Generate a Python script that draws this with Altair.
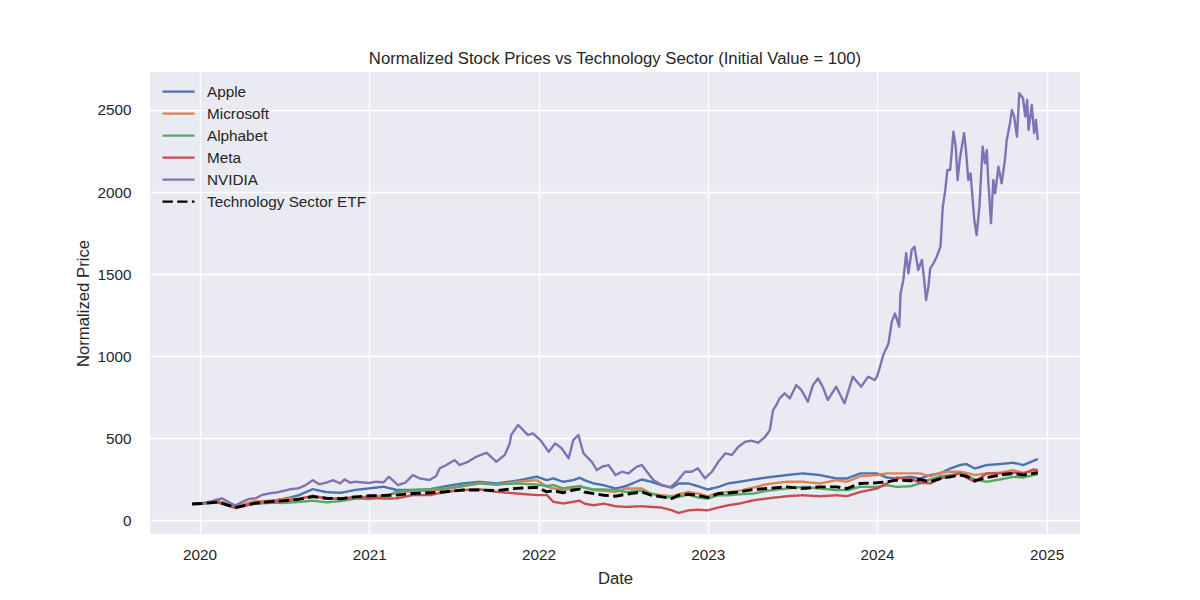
import altair as alt
import pandas as pd

series_order = ["Apple", "Microsoft", "Alphabet", "Meta", "NVIDIA", "Technology Sector ETF"]
series_colors = ["#4C72B0", "#DD8452", "#55A868", "#C44E52", "#8172B3", "#000000"]

# Common sampling dates for the five slower-moving series
common_dates = [
    "2019-12-16", "2020-01-13", "2020-02-10", "2020-03-18", "2020-04-28", "2020-06-05",
    "2020-07-01", "2020-08-01", "2020-09-01", "2020-10-01", "2020-11-01", "2020-12-01",
    "2021-01-01", "2021-02-01", "2021-03-01", "2021-04-05", "2021-05-11", "2021-06-16",
    "2021-07-22", "2021-08-27", "2021-10-02", "2021-11-14", "2021-12-28", "2022-01-19",
    "2022-02-02", "2022-02-23", "2022-03-17", "2022-03-31", "2022-04-10", "2022-04-30",
    "2022-05-22", "2022-06-16", "2022-07-08", "2022-08-12", "2022-09-01", "2022-09-24",
    "2022-10-16", "2022-10-30", "2022-11-20", "2022-12-11", "2023-01-01", "2023-01-24",
    "2023-02-14", "2023-03-10", "2023-04-09", "2023-05-08", "2023-06-20", "2023-07-25",
    "2023-08-31", "2023-10-06", "2023-10-28", "2023-11-26", "2024-01-01", "2024-01-22",
    "2024-02-13", "2024-03-13", "2024-04-03", "2024-04-25", "2024-05-17", "2024-06-07",
    "2024-06-28", "2024-07-12", "2024-07-30", "2024-08-25", "2024-09-22", "2024-10-21",
    "2024-11-12", "2024-12-04", "2024-12-13",
]

apple = [
    100, 105, 112, 80, 105, 118,
    131, 152, 190, 172, 168, 185,
    195, 205, 185, 185, 189, 209,
    225, 235, 225, 241, 266, 245,
    256, 235, 245, 260, 245, 225,
    214, 194, 208, 249, 235, 214,
    200, 225, 225, 208, 188, 204,
    225, 235, 249, 261, 276, 286,
    276, 255, 255, 286, 286, 261,
    255, 265, 255, 276, 286, 316,
    337, 343, 316, 337, 343, 351,
    337, 363, 374,
]

microsoft = [
    100, 106, 118, 88, 116, 120,
    131, 132, 146, 135, 130, 140,
    145, 150, 168, 178, 181, 189,
    209, 229, 218, 235, 245, 205,
    195, 185, 195, 210, 200, 184,
    180, 173, 194, 194, 163, 153,
    147, 159, 173, 163, 147, 167,
    173, 180, 200, 220, 235, 235,
    225, 245, 235, 269, 276, 286,
    286, 286, 286, 269, 290, 296,
    296, 290, 276, 286, 290, 306,
    290, 296, 306,
]

alphabet = [
    100, 104, 108, 80, 100, 107,
    106, 112, 120, 110, 118, 132,
    130, 140, 174, 185, 189, 195,
    209, 225, 218, 225, 218, 209,
    215, 195, 205, 208, 200, 188,
    188, 184, 173, 180, 163, 143,
    139, 143, 157, 139, 133, 153,
    153, 159, 163, 180, 194, 204,
    194, 184, 184, 204, 204, 214,
    204, 208, 225, 249, 269, 276,
    286, 276, 249, 235, 249, 265,
    261, 276, 280,
]

meta = [
    100, 105, 110, 75, 104, 117,
    116, 129, 150, 132, 133, 142,
    138, 133, 134, 154, 154, 174,
    185, 189, 174, 164, 154, 154,
    113, 103, 113, 120, 102, 92,
    102, 86, 82, 86, 82, 78,
    61, 45, 61, 65, 61, 78,
    92, 102, 122, 133, 147, 153,
    147, 153, 147, 173, 194, 225,
    261, 255, 229, 225, 255, 269,
    286, 261, 235, 286, 286, 290,
    286, 310, 306,
]

tech_etf = [
    100, 104, 112, 78, 104, 115,
    120, 128, 145, 135, 132, 143,
    150, 152, 154, 164, 168, 174,
    185, 185, 181, 195, 201, 174,
    181, 168, 185, 190, 173, 163,
    153, 147, 159, 173, 153, 143,
    133, 153, 159, 153, 139, 163,
    167, 173, 188, 194, 204, 194,
    204, 204, 194, 225, 229, 235,
    245, 241, 249, 235, 255, 265,
    276, 269, 241, 261, 276, 286,
    276, 286, 290,
]

nvidia_dates = [
    "2019-12-16", "2020-01-01", "2020-01-20", "2020-02-18", "2020-03-18", "2020-04-01",
    "2020-04-16", "2020-05-01", "2020-05-15", "2020-06-01", "2020-06-15", "2020-07-01",
    "2020-07-15", "2020-08-01", "2020-08-17", "2020-09-01", "2020-09-15", "2020-10-01",
    "2020-10-15", "2020-10-30", "2020-11-09", "2020-11-20", "2020-12-01", "2020-12-15",
    "2021-01-01", "2021-01-15", "2021-02-01", "2021-02-12", "2021-03-04", "2021-03-20",
    "2021-04-05", "2021-04-20", "2021-05-11", "2021-05-25", "2021-06-02", "2021-06-16",
    "2021-07-04", "2021-07-15", "2021-08-02", "2021-08-20", "2021-09-11", "2021-10-02",
    "2021-10-20", "2021-10-31", "2021-11-03", "2021-11-18", "2021-11-29", "2021-12-09",
    "2021-12-20", "2022-01-05", "2022-01-23", "2022-02-06", "2022-02-20", "2022-03-07",
    "2022-03-17", "2022-03-28", "2022-04-08", "2022-04-26", "2022-05-07", "2022-05-18",
    "2022-06-01", "2022-06-16", "2022-06-30", "2022-07-14", "2022-08-01", "2022-08-12",
    "2022-08-23", "2022-09-06", "2022-09-24", "2022-10-12", "2022-10-26", "2022-11-13",
    "2022-11-27", "2022-12-11", "2022-12-26", "2023-01-10", "2023-01-24", "2023-02-08",
    "2023-02-22", "2023-03-08", "2023-03-23", "2023-04-06", "2023-04-20", "2023-05-05",
    "2023-05-15", "2023-05-22", "2023-05-29", "2023-06-05", "2023-06-16", "2023-06-27",
    "2023-07-11", "2023-07-22", "2023-08-05", "2023-08-16", "2023-08-27", "2023-09-06",
    "2023-09-17", "2023-10-05", "2023-10-23", "2023-11-10", "2023-11-28", "2023-12-13",
    "2023-12-27", "2024-01-01", "2024-01-08", "2024-01-15", "2024-01-26", "2024-02-02",
    "2024-02-09", "2024-02-18", "2024-02-21", "2024-02-27", "2024-03-04", "2024-03-09",
    "2024-03-16", "2024-03-22", "2024-03-30", "2024-04-07", "2024-04-12", "2024-04-16",
    "2024-04-21", "2024-04-25", "2024-05-02", "2024-05-09", "2024-05-17", "2024-05-20",
    "2024-05-22", "2024-05-27", "2024-06-01", "2024-06-07", "2024-06-14", "2024-06-19",
    "2024-06-23", "2024-06-28", "2024-07-07", "2024-07-11", "2024-07-16", "2024-07-21",
    "2024-07-25", "2024-07-29", "2024-08-03", "2024-08-09", "2024-08-16", "2024-08-21",
    "2024-08-25", "2024-08-28", "2024-09-03", "2024-09-08", "2024-09-12", "2024-09-19",
    "2024-09-26", "2024-10-03", "2024-10-07", "2024-10-14", "2024-10-18", "2024-10-23",
    "2024-10-29", "2024-11-03", "2024-11-11", "2024-11-16", "2024-11-20", "2024-11-23",
    "2024-11-30", "2024-12-05", "2024-12-09", "2024-12-13",
]

nvidia = [
    100, 102, 112, 134, 90, 112,
    130, 135, 155, 165, 170, 180,
    190, 195, 215, 245, 220, 230,
    245, 225, 250, 230, 235, 232,
    228, 235, 232, 266, 215, 230,
    276, 255, 246, 270, 317, 337,
    367, 337, 357, 388, 412, 357,
    398, 469, 520, 581, 550, 520,
    530, 489, 418, 469, 439, 378,
    489, 520, 408, 357, 306, 327,
    337, 276, 296, 286, 327, 337,
    296, 245, 215, 201, 235, 296,
    296, 317, 256, 296, 357, 408,
    398, 448, 479, 485, 473, 509,
    550, 672, 702, 743, 774, 743,
    824, 794, 723, 824, 865, 814,
    733, 814, 713, 875, 814, 875,
    855, 875, 940, 1010, 1078, 1210,
    1260, 1180, 1383, 1464, 1627, 1505,
    1647, 1667, 1525, 1586, 1464, 1342,
    1423, 1535, 1566, 1606, 1667, 1810,
    1911, 2002, 2134, 2134, 2368, 2276,
    2073, 2205, 2358, 2256, 2073, 2114,
    1972, 1830, 1738, 1911, 2276, 2175,
    2256, 2073, 1810, 2073, 1992, 2154,
    2053, 2195, 2317, 2419, 2500, 2459,
    2337, 2602, 2571, 2459, 2561, 2378,
    2530, 2358, 2439, 2317,
]

rows = []
for name, vals in [("Apple", apple), ("Microsoft", microsoft), ("Alphabet", alphabet),
                   ("Meta", meta), ("Technology Sector ETF", tech_etf)]:
    for d, v in zip(common_dates, vals):
        rows.append({"Date": d, "series": name, "value": v})
for d, v in zip(nvidia_dates, nvidia):
    rows.append({"Date": d, "series": "NVIDIA", "value": v})
df = pd.DataFrame(rows)

FONT = "Liberation Sans"
TXT = "#262626"

x_enc = alt.X(
    "Date:T",
    scale=alt.Scale(type="utc",
                    domain=[alt.DateTime(year=2019, month=9, date=16, utc=True),
                            alt.DateTime(year=2025, month=3, date=14, utc=True)]),
    axis=alt.Axis(values=[alt.DateTime(year=y, month=1, date=1, utc=True) for y in range(2020, 2026)],
                  format="%Y", title="Date"),
)
y_enc = alt.Y(
    "value:Q",
    scale=alt.Scale(domain=[-83, 2731], nice=False, zero=False),
    axis=alt.Axis(values=[0, 500, 1000, 1500, 2000, 2500], format="d", title="Normalized Price"),
)
legend = alt.Legend(
    title=None, orient="none", legendX=11, legendY=9,
    symbolType="stroke", symbolSize=1024, symbolStrokeWidth=2.3,
    labelFont=FONT, labelFontSize=15.3, labelColor=TXT, labelOffset=11,
    rowPadding=0, clipHeight=21.4, padding=0,
)
color_enc = alt.Color("series:N", scale=alt.Scale(domain=series_order, range=series_colors), legend=legend)
dash_enc = alt.StrokeDash(
    "series:N",
    scale=alt.Scale(domain=series_order, range=[[1, 0], [1, 0], [1, 0], [1, 0], [1, 0], [10.3, 4.4]]),
    legend=legend,
)

layers = []
for name in series_order:
    w = 2.9 if name == "Technology Sector ETF" else 2.4
    layers.append(
        alt.Chart(df)
        .transform_filter(alt.datum.series == name)
        .mark_line(strokeWidth=w, strokeCap="butt", strokeJoin="round")
        .encode(x=x_enc, y=y_enc, color=color_enc, strokeDash=dash_enc)
    )

chart = (
    alt.layer(*layers)
    .properties(
        width=930, height=462,
        title=alt.TitleParams(
            "Normalized Stock Prices vs Technology Sector (Initial Value = 100)",
            font=FONT, fontSize=16.7, fontWeight="normal", color=TXT,
            anchor="middle", offset=4,
        ),
        autosize=alt.AutoSizeParams(type="none"),
        padding={"left": 150, "top": 72, "right": 120, "bottom": 66},
    )
    .configure(background="white")
    .configure_view(fill="#EAEAF2", stroke=None)
    .configure_axis(
        grid=True, gridColor="white", gridWidth=1.3, domain=False, ticks=False,
        labelFont=FONT, labelFontSize=15.3, labelColor=TXT,
        titleFont=FONT, titleFontSize=16.7, titleColor=TXT, titleFontWeight="normal",
    )
    .configure_axisX(labelPadding=13, titlePadding=8)
    .configure_axisY(labelPadding=19, titlePadding=4)
)

chart.save("out.html", embed_options={"renderer": "svg", "actions": False})
